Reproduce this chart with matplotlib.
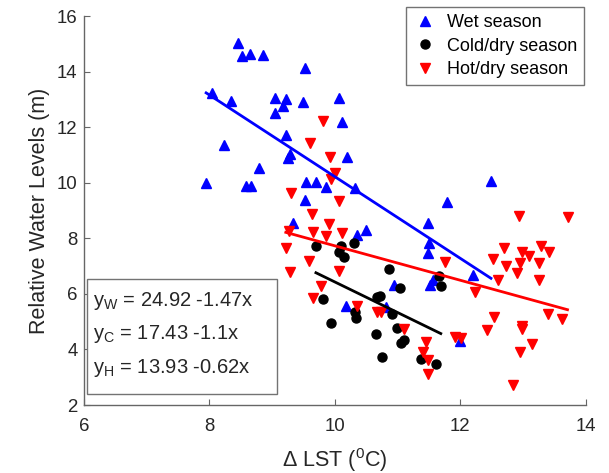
import numpy as np
import matplotlib
matplotlib.use("Agg")
import matplotlib.pyplot as plt
from matplotlib.patches import Rectangle

plt.rcParams['font.family'] = ['Liberation Sans', 'DejaVu Sans']
plt.rcParams['mathtext.fontset'] = 'custom'
plt.rcParams['mathtext.rm'] = 'Liberation Sans'
plt.rcParams['mathtext.it'] = 'Liberation Sans'

# wet season (blue up-triangles)
wet_x = [8.45, 8.52, 8.65, 8.86, 8.04, 8.35, 9.05, 9.17, 9.04, 8.23, 8.80, 7.95,
         8.59, 8.66, 9.52, 9.23, 9.50, 10.07, 10.11, 9.22, 9.25, 9.28, 10.20, 9.54,
         9.70, 9.86, 10.33, 9.52, 11.79, 12.49, 12.20, 12.00, 9.33, 10.50, 10.35,
         11.48, 11.51, 11.49, 11.56, 11.52, 10.95, 10.18, 10.82]
wet_y = [15.04, 14.56, 14.62, 14.60, 13.22, 12.95, 13.04, 12.76, 12.50, 11.36, 10.54, 10.00,
         9.88, 9.88, 14.14, 13.00, 12.92, 13.06, 12.20, 11.72, 10.90, 11.05, 10.94, 10.04,
         10.04, 9.84, 9.80, 9.38, 9.30, 10.06, 6.68, 4.32, 8.56, 8.30, 8.12,
         8.54, 7.82, 7.46, 6.50, 6.32, 6.32, 5.58, 5.54]

# cold/dry season (black circles)
cold_x = [9.70, 10.10, 10.30, 10.07, 10.14, 10.87, 11.04, 11.66, 11.69, 9.81, 10.67, 10.72,
          10.33, 10.34, 10.92, 9.94, 10.99, 10.65, 11.11, 11.05, 10.76, 11.37, 11.61]
cold_y = [7.73, 7.73, 7.82, 7.50, 7.32, 6.90, 6.21, 6.65, 6.29, 5.82, 5.88, 5.94,
          5.36, 5.12, 5.27, 4.95, 4.77, 4.56, 4.35, 4.23, 3.74, 3.65, 3.48]

# hot/dry season (red down-triangles)
hot_x = [9.82, 9.61, 9.92, 10.00, 9.94, 9.30, 10.07, 9.64, 12.94, 13.71, 11.76, 12.70,
         12.99, 13.10, 13.28, 13.42, 12.53, 12.73, 12.95, 13.26, 12.91, 12.60, 13.26, 12.23,
         13.40, 13.63, 12.54, 12.43, 12.99, 12.98, 13.14, 12.95, 12.84, 11.92, 12.01, 9.91,
         9.66, 9.86, 10.12, 9.27, 9.22, 9.59, 9.29, 10.07, 9.78, 9.66, 10.36, 10.67,
         10.73, 11.10, 11.45, 11.40, 11.49, 11.48]
hot_y = [12.23, 11.42, 10.92, 10.36, 10.14, 9.64, 9.35, 8.86, 8.82, 8.78, 7.16, 7.64,
         7.52, 7.38, 7.74, 7.52, 7.25, 7.02, 7.10, 7.10, 6.74, 6.50, 6.50, 6.08,
         5.27, 5.10, 5.15, 4.70, 4.86, 4.73, 4.20, 3.90, 2.73, 4.46, 4.41, 8.51,
         8.21, 8.09, 8.18, 8.27, 7.64, 7.19, 6.80, 6.83, 6.29, 5.84, 5.57, 5.36,
         5.36, 4.73, 4.25, 3.89, 3.63, 3.11]

# linear fits y = a + b*x
fit_a = {'W': 24.92, 'C': 17.43, 'H': 13.93}
fit_b = {'W': -1.47, 'C': -1.1, 'H': -0.62}

fig = plt.figure(figsize=(6.09, 4.73), dpi=100)
ax = fig.add_axes([83.8/609, 1-405/473, (585.7-83.8)/609, (405-16)/473])

ms = 6.5
ax.plot(wet_x, wet_y, '^', color='blue', ms=ms, mec='blue', label='Wet season', zorder=3)
ax.plot(cold_x, cold_y, 'o', color='black', ms=ms, mec='black', label='Cold/dry season', zorder=3)
ax.plot(hot_x, hot_y, 'v', color='red', ms=ms, mec='red', label='Hot/dry season', zorder=3)

for key, xs, c in [('W', wet_x, 'blue'), ('C', cold_x, 'black'), ('H', hot_x, 'red')]:
    xl = np.array([min(xs), max(xs)])
    ax.plot(xl, fit_a[key] + fit_b[key]*xl, '-', color=c, lw=2, zorder=4)

ax.set_xlim(6, 14)
ax.set_ylim(2, 16)
ax.set_xticks([6, 8, 10, 12, 14])
ax.set_yticks([2, 4, 6, 8, 10, 12, 14, 16])
for s in ['top', 'right']:
    ax.spines[s].set_visible(False)
for s in ['left', 'bottom']:
    ax.spines[s].set_color('0.4')
    ax.spines[s].set_linewidth(1)
ax.tick_params(direction='in', length=4, width=0.8, color='0.4', labelsize=13.4,
               labelcolor='#262626')
ax.tick_params(axis='x', pad=9)
ax.tick_params(axis='y', pad=4.5)

ax.set_xlabel('Δ LST ($\\mathregular{^0}$C)', fontsize=15.5, color='#262626', labelpad=8)
ax.set_ylabel('Relative Water Levels (m)', fontsize=15.5, color='#262626', labelpad=5)

leg = ax.legend(loc='upper right', bbox_to_anchor=(584/609, 1-7/473),
                bbox_transform=fig.transFigure, fontsize=13, numpoints=1,
                fancybox=False, framealpha=1, edgecolor='0.45', borderaxespad=0,
                handlelength=1.3, handletextpad=0.55, borderpad=0.4, labelspacing=0.36)
leg.get_frame().set_linewidth(1)

# equation box
ax.add_patch(Rectangle((0.0064, 0.028), 0.379, 0.296, transform=ax.transAxes,
                       fill=True, facecolor='white', edgecolor='0.45', lw=1, zorder=5))
eqs = [('W', 0.2545), ('C', 0.169), ('H', 0.0815)]
for key, yy in eqs:
    ax.text(0.018, yy, '$\\mathregular{y_%s}$ = %g %g' % (key, fit_a[key], fit_b[key]) + 'x',
            transform=ax.transAxes, fontsize=14.5, va='baseline', ha='left',
            color='#262626', zorder=6)

fig.savefig('out.png', dpi=100)
